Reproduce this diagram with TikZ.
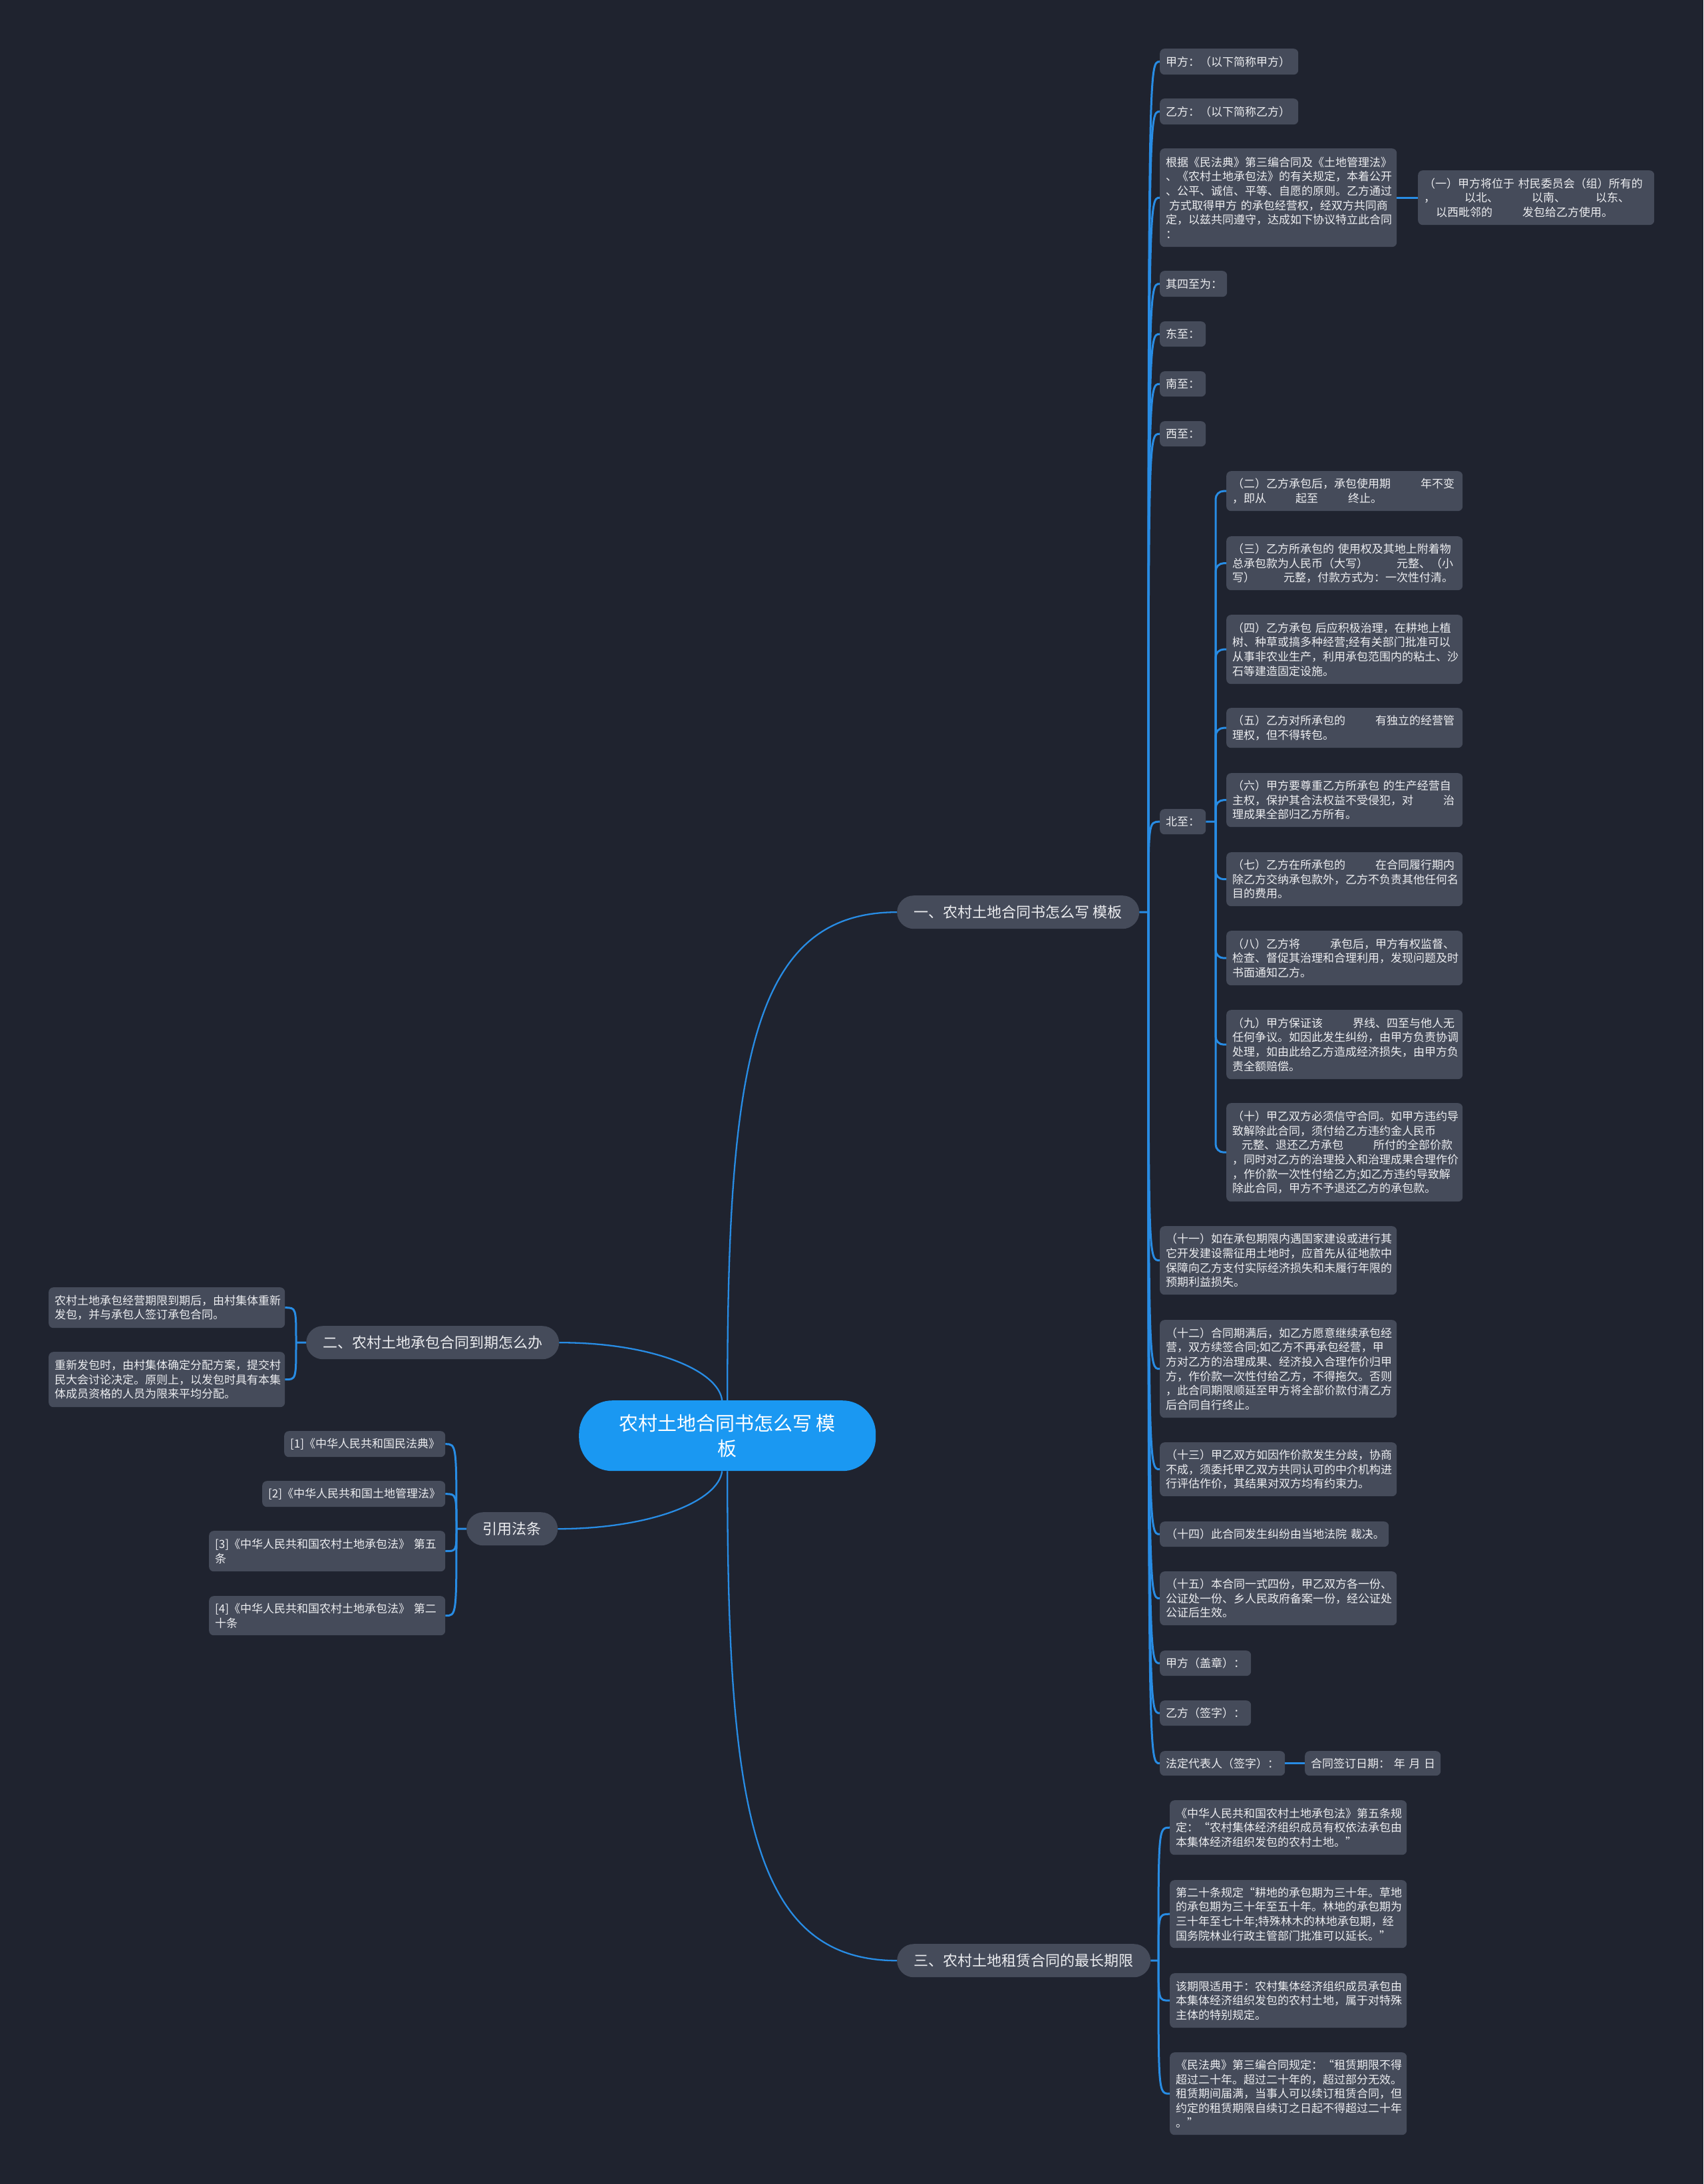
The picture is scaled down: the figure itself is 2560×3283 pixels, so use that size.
\documentclass[tikz,border=0pt]{standalone}
\usepackage{fontspec}
\setmainfont{Noto Sans CJK SC}
\newfontfamily\cjk{Noto Sans CJK SC}
\usetikzlibrary{calc}
\definecolor{bgc}{RGB}{31,35,47}
\definecolor{nodec}{RGB}{69,75,90}
\definecolor{linec}{RGB}{40,140,228}
\definecolor{centc}{RGB}{26,152,242}
\definecolor{txtc}{RGB}{236,237,240}
\newcommand\gp{\nobreak\hspace*{45pt}\nobreak}
\newcommand\bx[6]{\pgfmathsetmacro\mytw{#4-18}\node[nbox, text width=\mytw pt, minimum height=#5pt] (#1) at (#2,-#3) {#6};}
\begin{document}
\begin{tikzpicture}[x=1pt,y=1pt,
  nbox/.style={fill=nodec, rounded corners=7pt, inner xsep=9pt, inner ysep=0pt, text=txtc,
    font=\cjk\fontsize{17}{21.7}\selectfont, align=left, anchor=north west},
  bnode/.style={fill=nodec, rounded corners=25pt, inner sep=0pt, text=txtc,
    font=\cjk\fontsize{22}{28}\selectfont, anchor=north west, minimum height=50pt, align=center},
  conn/.style={draw=linec, line width=3pt},
  mconn/.style={draw=linec, line width=2.3pt}]
\fill[bgc] (0,0) rectangle (2560,-3283);
\useasboundingbox (0,0) rectangle (2560,-3283);

% centre and branches
\node[fill=centc, rounded corners=50pt, inner sep=0pt, text=white, anchor=north west,
  minimum width=446pt, minimum height=106pt, align=center,
  font=\cjk\fontsize{29}{38}\selectfont] (c) at (870,-2105) {农村土地合同书怎么写~模\\板};
\node[bnode, minimum width=364pt] (b1) at (1348,-1346) {一、农村土地合同书怎么写~模板};
\node[bnode, minimum width=381pt] (b3) at (1348,-2922) {三、农村土地租赁合同的最长期限};
\node[bnode, minimum width=380pt] (b2) at (460,-1993) {二、农村土地承包合同到期怎么办};
\node[bnode, minimum width=137pt] (b4) at (701,-2273) {引用法条};

% branch 1 children
\bx{a1}{1743}{73}{208}{39}{甲方：（以下简称甲方）}
\bx{a2}{1743}{148}{208}{39}{乙方：（以下简称乙方）}
\bx{a3}{1743}{223}{356}{148}{根据《民法典》第三编合同及《土地管理法》\\、《农村土地承包法》的有关规定，本着公开\\、公平、诚信、平等、自愿的原则。乙方通过\\\hspace*{5pt}方式取得甲方~的承包经营权，经双方共同商\\定，以兹共同遵守，达成如下协议特立此合同\\：}
\bx{ax}{2131}{256}{355}{82}{（一）甲方将位于~村民委员会（组）所有的\\，\hspace*{44pt}以北、\hspace*{50pt}以南、\hspace*{45pt}以东、\\\hspace*{18pt}以西毗邻的\gp{}发包给乙方使用。}
\bx{a4}{1743}{407}{101}{39}{其四至为：}
\bx{a5}{1743}{483}{69}{38}{东至：}
\bx{a6}{1743}{558}{69}{38}{南至：}
\bx{a7}{1743}{633}{69}{38}{西至：}
\bx{a8}{1743}{1216}{69}{38}{北至：}
\bx{a9}{1743}{1843}{356}{103}{（十一）如在承包期限内遇国家建设或进行其\\它开发建设需征用土地时，应首先从征地款中\\保障向乙方支付实际经济损失和未履行年限的\\预期利益损失。}
\bx{a10}{1743}{1984}{356}{147}{（十二）合同期满后，如乙方愿意继续承包经\\营，双方续签合同;如乙方不再承包经营，甲\\方对乙方的治理成果、经济投入合理作价归甲\\方，作价款一次性付给乙方，不得拖欠。否则\\，此合同期限顺延至甲方将全部价款付清乙方\\后合同自行终止。}
\bx{a11}{1743}{2168}{356}{81}{（十三）甲乙双方如因作价款发生分歧，协商\\不成，须委托甲乙双方共同认可的中介机构进\\行评估作价，其结果对双方均有约束力。}
\bx{a12}{1743}{2287}{344}{38}{（十四）此合同发生纠纷由当地法院~裁决。}
\bx{a13}{1743}{2362}{356}{81}{（十五）本合同一式四份，甲乙双方各一份、\\公证处一份、乡人民政府备案一份，经公证处\\公证后生效。}
\bx{a14}{1743}{2481}{137}{38}{甲方（盖章）：}
\bx{a15}{1743}{2556}{137}{38}{乙方（签字）：}
\bx{a16}{1743}{2632}{188}{37}{法定代表人（签字）：}
\bx{a17}{1961}{2632}{204}{37}{合同签订日期：~年~月~日}

% children of 北至
\bx{c2}{1843}{708}{355}{60}{（二）乙方承包后，承包使用期\gp{}年不变\\，即从\hspace*{44pt}起至\gp{}终止。}
\bx{c3}{1843}{806}{355}{81}{（三）乙方所承包的~使用权及其地上附着物\\总承包款为人民币（大写）\hspace*{43pt}元整、（小\\写）\hspace*{43pt}元整，付款方式为：一次性付清。}
\bx{c4}{1843}{924}{355}{104}{（四）乙方承包~后应积极治理，在耕地上植\\树、种草或搞多种经营;经有关部门批准可以\\从事非农业生产，利用承包范围内的粘土、沙\\石等建造固定设施。}
\bx{c5}{1843}{1064}{355}{60}{（五）乙方对所承包的\gp{}有独立的经营管\\理权，但不得转包。}
\bx{c6}{1843}{1162}{355}{81}{（六）甲方要尊重乙方所承包~的生产经营自\\主权，保护其合法权益不受侵犯，对\gp{}治\\理成果全部归乙方所有。}
\bx{c7}{1843}{1281}{355}{81}{（七）乙方在所承包的\gp{}在合同履行期内\\除乙方交纳承包款外，乙方不负责其他任何名\\目的费用。}
\bx{c8}{1843}{1399}{355}{82}{（八）乙方将\gp{}承包后，甲方有权监督、\\检查、督促其治理和合理利用，发现问题及时\\书面通知乙方。}
\bx{c9}{1843}{1518}{355}{104}{（九）甲方保证该\gp{}界线、四至与他人无\\任何争议。如因此发生纠纷，由甲方负责协调\\处理，如由此给乙方造成经济损失，由甲方负\\责全额赔偿。}
\bx{c10}{1843}{1658}{355}{148}{（十）甲乙双方必须信守合同。如甲方违约导\\致解除此合同，须付给乙方违约金人民币\\\hspace*{14pt}元整、退还乙方承包\gp{}所付的全部价款\\，同时对乙方的治理投入和治理成果合理作价\\，作价款一次性付给乙方;如乙方违约导致解\\除此合同，甲方不予退还乙方的承包款。}

% branch 3 children
\bx{d1}{1758}{2706}{356}{82}{《中华人民共和国农村土地承包法》第五条规\\定：“农村集体经济组织成员有权依法承包由\\本集体经济组织发包的农村土地。”}
\bx{d2}{1758}{2826}{356}{102}{第二十条规定“耕地的承包期为三十年。草地\\的承包期为三十年至五十年。林地的承包期为\\三十年至七十年;特殊林木的林地承包期，经\\国务院林业行政主管部门批准可以延长。”}
\bx{d3}{1758}{2966}{356}{82}{该期限适用于：农村集体经济组织成员承包由\\本集体经济组织发包的农村土地，属于对特殊\\主体的特别规定。}
\bx{d4}{1758}{3085}{356}{124}{《民法典》第三编合同规定：“租赁期限不得\\超过二十年。超过二十年的，超过部分无效。\\租赁期间届满，当事人可以续订租赁合同，但\\约定的租赁期限自续订之日起不得超过二十年\\。”}

% branch 2 children
\bx{l1}{73}{1935}{355}{61}{农村土地承包经营期限到期后，由村集体重新\\发包，并与承包人签订承包合同。}
\bx{l2}{73}{2032}{355}{83}{重新发包时，由村集体确定分配方案，提交村\\民大会讨论决定。原则上，以发包时具有本集\\体成员资格的人员为限来平均分配。}

% 引用法条 children
\bx{r1}{427}{2151}{242}{39}{[1]《中华人民共和国民法典》}
\bx{r2}{394}{2226}{275}{39}{[2]《中华人民共和国土地管理法》}
\bx{r3}{314}{2301}{355}{61}{[3]《中华人民共和国农村土地承包法》~第五\\条}
\bx{r4}{314}{2399}{355}{59}{[4]《中华人民共和国农村土地承包法》~第二\\十条}

% main connectors
\draw[mconn] (c.north) .. controls (1093,-1600) and (1130,-1371) .. (b1.west);
\draw[mconn] (c.south) .. controls (1093,-2719) and (1130,-2947) .. (b3.west);
\draw[mconn] ($(c.north)+(-8,0)$) .. controls (1080,-2060) and (980,-2018) .. (b2.east);
\draw[mconn] ($(c.south)+(-8,0)$) .. controls (1080,-2256) and (980,-2298) .. (b4.east);

% branch 1 connectors
\coordinate (s1) at (1726,-1371);
\draw[conn] (b1.east) -- (s1);
\foreach \n in {a1,a2,a3,a4,a5,a6,a7,a8,a9,a10,a11,a12,a13,a14,a15,a16}
  \draw[conn] (s1) .. controls (s1|-\n.west) and (s1|-\n.west) .. (\n.west);
\draw[conn] (a3.east) -- (ax.west);
\draw[conn] (a16.east) -- (a17.west);

% 北至 connectors
\coordinate (s8) at (1827,-1235);
\draw[conn] (a8.east) -- (s8);
\foreach \n in {c2,c3,c4,c5,c6,c7,c8,c9,c10}
  \draw[conn, rounded corners=12pt] (s8) |- (\n.west);

% branch 3 connectors
\coordinate (s3) at (1741,-2947);
\draw[conn] (b3.east) -- (s3);
\foreach \n in {d1,d2,d3,d4}
  \draw[conn] (s3) .. controls (s3|-\n.west) and (s3|-\n.west) .. (\n.west);

% branch 2 connectors
\coordinate (s2) at (445,-2018);
\draw[conn] (b2.west) -- (s2);
\foreach \n in {l1,l2}
  \draw[conn] (s2) .. controls (s2|-\n.east) and (s2|-\n.east) .. (\n.east);

% 引用法条 connectors
\coordinate (s4) at (686,-2298);
\draw[conn] (b4.west) -- (s4);
\foreach \n in {r1,r2,r3,r4}
  \draw[conn] (s4) .. controls (s4|-\n.east) and (s4|-\n.east) .. (\n.east);
\end{tikzpicture}
\end{document}
